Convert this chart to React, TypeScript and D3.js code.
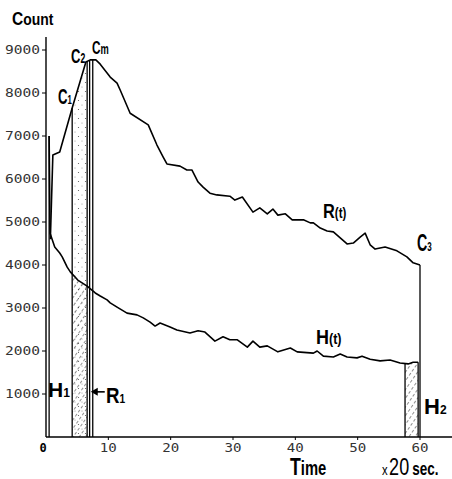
import React from 'react';
import * as d3 from 'd3';

// R(t): count curve rising to the maximum Cm, then decaying to C3
const rTime = [0.7, 1.1, 2.2, 4.2, 6.4, 7.1, 8.0, 8.7, 9.8, 10.3, 11.4, 11.9, 13.5, 16.4, 17.8, 18.8, 19.4, 21.5, 22.6, 23.4, 24.4, 25.2, 26.3, 27.4, 29.5, 30.3, 31.5, 33.2, 34.3, 35.5, 36.4, 37.2, 38.4, 39.5, 41.3, 42.4, 42.9, 44.0, 45.1, 46.1, 47.2, 48.3, 49.3, 50.4, 51.2, 52.0, 52.8, 54.4, 56.3, 57.9, 58.9, 60.0];
const rCount = [4600, 6560, 6630, 7650, 8720, 8770, 8770, 8670, 8465, 8370, 8230, 8070, 7530, 7260, 6790, 6510, 6350, 6300, 6210, 6210, 5930, 5810, 5670, 5630, 5600, 5510, 5580, 5230, 5330, 5190, 5300, 5160, 5190, 5050, 5050, 4980, 4980, 4860, 4790, 4770, 4630, 4490, 4510, 4650, 4740, 4470, 4370, 4420, 4330, 4190, 4050, 4000];

// H(t): decaying count curve
const hTime = [0.5, 0.65, 1.4, 2.2, 2.6, 3.4, 3.9, 5.1, 6.6, 7.9, 8.7, 9.8, 10.3, 11.4, 13.0, 14.6, 15.6, 16.7, 17.5, 18.3, 19.9, 21.0, 23.1, 24.4, 25.5, 27.1, 28.4, 29.5, 30.7, 32.3, 33.2, 34.3, 35.5, 37.2, 39.2, 40.3, 42.9, 43.5, 44.5, 46.1, 47.2, 48.3, 49.9, 50.7, 52.0, 53.6, 55.2, 56.8, 58.1, 58.9, 59.7];
const hCount = [7000, 4740, 4420, 4280, 4190, 3950, 3840, 3650, 3510, 3350, 3280, 3190, 3120, 3020, 2880, 2840, 2770, 2670, 2580, 2650, 2560, 2490, 2420, 2470, 2440, 2230, 2330, 2260, 2260, 2090, 2230, 2090, 2120, 1980, 2070, 1980, 1950, 2000, 1880, 1860, 1930, 1860, 1840, 1880, 1810, 1770, 1790, 1720, 1700, 1740, 1740];

const xTicks = [0, 10, 20, 30, 40, 50, 60];
const yTicks = [1000, 2000, 3000, 4000, 5000, 6000, 7000, 8000, 9000];

// marker times
const tH1 = 0.5;
const tC1 = 4.2;
const tC2 = 6.6;
const tC2b = 7.0;
const tCm = 7.5;
const tH2a = 57.6;
const tH2b = 59.7;
const tEnd = 60;
const yAxisTop = 9300;

const W = 452;
const H = 479;

const x = d3.scaleLinear().domain([0, 60]).range([46, 420]);
const y = d3.scaleLinear().domain([0, 9000]).range([437, 50]);

function valueAt(ts: number[], vs: number[], t: number): number {
  const i = d3.bisectLeft(ts, t);
  if (i <= 0) return vs[0];
  if (i >= ts.length) return vs[vs.length - 1];
  const f = (t - ts[i - 1]) / (ts[i] - ts[i - 1]);
  return vs[i - 1] + f * (vs[i] - vs[i - 1]);
}

const rPts: [number, number][] = rTime.map((t, i) => [t, rCount[i]]);
const hPts: [number, number][] = hTime.map((t, i) => [t, hCount[i]]);

const line = d3.line<[number, number]>().x(d => x(d[0])).y(d => y(d[1]));
const areaUnder = d3.area<[number, number]>().x(d => x(d[0])).y0(y(0)).y1(d => y(d[1]));

const sans = '"Liberation Sans", Arial, sans-serif';
const mono = '"DejaVu Sans Mono", "Liberation Mono", monospace';

function VLine({ t, top }: { t: number; top: number }) {
  return <line x1={x(t)} x2={x(t)} y1={y(0)} y2={y(top)} stroke="#000" strokeWidth={1.3} />;
}

// bold, horizontally squeezed label text
function Label({ px, py, sx, children }: { px: number; py: number; sx: number; children: React.ReactNode }) {
  return (
    <text transform={`translate(${px},${py}) scale(${sx},1)`} fontFamily={sans} fontWeight="bold" fill="#000">
      {children}
    </text>
  );
}

export default function App() {
  const rC1 = valueAt(rTime, rCount, tC1);
  const rC2 = valueAt(rTime, rCount, tC2);
  const rC2b = valueAt(rTime, rCount, tC2b);
  const rCm = valueAt(rTime, rCount, tCm);
  const hA = valueAt(hTime, hCount, tH2a);
  const hB = valueAt(hTime, hCount, tH2b);

  return (
    <svg width={W} height={H} viewBox={`0 0 ${W} ${H}`}
      style={{ position: 'absolute', left: 0, top: 0, background: '#fff' }}>
      <defs>
        <pattern id="hatch" width="5" height="5" patternUnits="userSpaceOnUse" patternTransform="rotate(35)">
          <line x1="0" y1="0" x2="0" y2="5" stroke="#222" strokeWidth="1" strokeDasharray="3 2" />
        </pattern>
        <pattern id="stipple" width="7" height="9" patternUnits="userSpaceOnUse">
          <circle cx="1.5" cy="1.5" r="0.6" fill="#555" />
          <circle cx="5" cy="6" r="0.5" fill="#777" />
        </pattern>
        <clipPath id="stripR1">
          <rect x={x(tC1)} y={0} width={x(tC2) - x(tC1)} height={H} />
        </clipPath>
        <clipPath id="stripH2">
          <rect x={x(tH2a)} y={0} width={x(tH2b) - x(tH2a)} height={H} />
        </clipPath>
      </defs>

      {/* R1 strip: stipple up to R(t), hatching below H(t) */}
      <g clipPath="url(#stripR1)">
        <path d={areaUnder(rPts) || ''} fill="url(#stipple)" />
        <path d={areaUnder(hPts) || ''} fill="url(#hatch)" />
      </g>
      {/* H2 strip */}
      <g clipPath="url(#stripH2)">
        <path d={areaUnder(hPts) || ''} fill="url(#hatch)" />
      </g>

      {/* axes */}
      <line x1={x(0)} x2={W} y1={y(0)} y2={y(0)} stroke="#000" strokeWidth={1.4} />
      <line x1={x(0)} x2={x(0)} y1={y(0)} y2={y(yAxisTop)} stroke="#000" strokeWidth={1.4} />

      {yTicks.map(v => (
        <g key={v}>
          <line x1={x(0) - 4} x2={x(0)} y1={y(v)} y2={y(v)} stroke="#000" strokeWidth={1} />
          <text x={5} y={y(v) + 4} fontFamily={mono} fontSize={12} fill="#333"
            textLength={35} lengthAdjust="spacingAndGlyphs">{v}</text>
        </g>
      ))}
      {xTicks.map(v => (
        <g key={v}>
          {v > 0 && <line x1={x(v)} x2={x(v)} y1={y(0)} y2={y(0) + 3} stroke="#000" strokeWidth={1} />}
          <text x={x(v) - (v === 0 ? 3 : 0)} y={452} textAnchor="middle" fontFamily={mono}
            fontSize={12} fontWeight={v === 0 ? 'bold' : 'normal'} fill={v === 0 ? '#000' : '#333'}
            {...(v > 0 ? { textLength: 17, lengthAdjust: 'spacingAndGlyphs' } : {})}>{v}</text>
        </g>
      ))}

      {/* vertical markers */}
      <VLine t={tH1} top={hCount[0]} />
      <VLine t={tC1} top={rC1} />
      <VLine t={tC2} top={rC2} />
      <VLine t={tC2b} top={rC2b} />
      <VLine t={tCm} top={rCm} />
      <VLine t={tH2a} top={hA} />
      <VLine t={tH2b} top={hB} />
      <VLine t={tEnd} top={rCount[rCount.length - 1]} />

      {/* curves */}
      <path d={line(hPts) || ''} fill="none" stroke="#000" strokeWidth={1.6} strokeLinejoin="round" />
      <path d={line(rPts) || ''} fill="none" stroke="#000" strokeWidth={1.6} strokeLinejoin="round" />

      {/* labels */}
      <Label px={12} py={25} sx={0.82}>
        <tspan fontSize={19}>C</tspan><tspan fontSize={17}>ount</tspan>
      </Label>

      <Label px={58} py={104} sx={0.6}>
        <tspan fontSize={22}>C</tspan><tspan fontSize={13}>1</tspan>
      </Label>
      <Label px={71} py={63} sx={0.62}>
        <tspan fontSize={21}>C</tspan><tspan fontSize={14}>2</tspan>
      </Label>
      <Label px={92} py={54} sx={0.62}>
        <tspan fontSize={19}>C</tspan><tspan fontSize={15}>m</tspan>
      </Label>
      <Label px={417} py={251} sx={0.62}>
        <tspan fontSize={23}>C</tspan><tspan fontSize={13}>3</tspan>
      </Label>

      <Label px={323} py={218} sx={0.82}>
        <tspan fontSize={20}>R</tspan><tspan fontSize={14}>(t)</tspan>
      </Label>
      <Label px={316} py={344} sx={0.9}>
        <tspan fontSize={20}>H</tspan><tspan fontSize={14}>(t)</tspan>
      </Label>

      <Label px={48} py={397} sx={1}>
        <tspan fontSize={21}>H</tspan><tspan fontSize={12}>1</tspan>
      </Label>
      <Label px={424} py={414} sx={1}>
        <tspan fontSize={22}>H</tspan><tspan fontSize={12}>2</tspan>
      </Label>

      {/* R1 pointer */}
      <line x1={x(tCm) + 12} x2={x(tCm) + 1} y1={y(1050)} y2={y(1050)} stroke="#000" strokeWidth={1.6} />
      <path d={`M${x(tCm) - 2},${y(1050)} l7,-4 l0,8 z`} fill="#000" />
      <Label px={106} py={403} sx={0.85}>
        <tspan fontSize={22}>R</tspan><tspan fontSize={12}>1</tspan>
      </Label>

      <Label px={290} py={475} sx={0.74}>
        <tspan fontSize={24}>T</tspan><tspan fontSize={20}>ime</tspan>
      </Label>
      <text transform="translate(382,475) scale(0.75,1)" fontFamily={sans} fill="#000">
        <tspan fontSize={15}>x</tspan><tspan fontSize={24} dx={2}>20</tspan><tspan fontSize={18} fontWeight="bold" dx={4}>sec.</tspan>
      </text>
    </svg>
  );
}
